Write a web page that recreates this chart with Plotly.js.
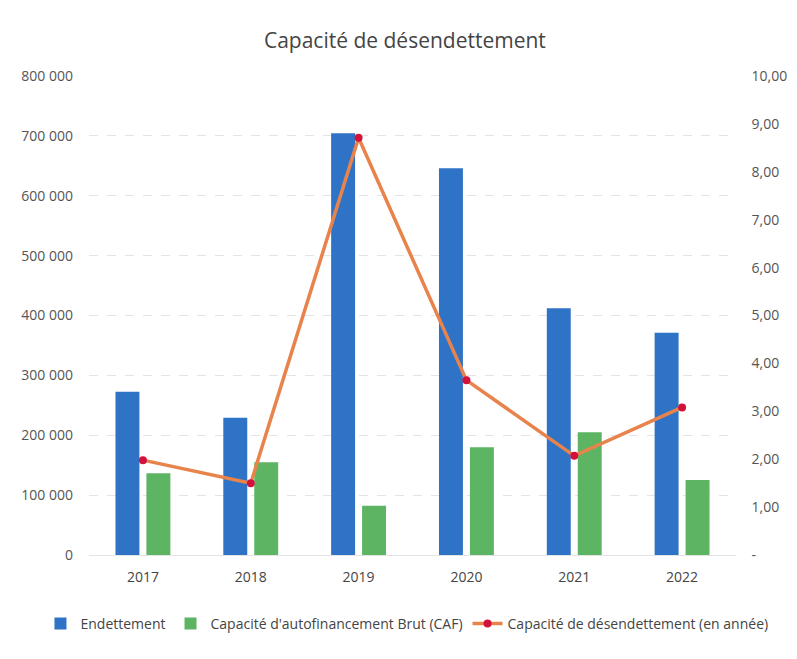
<!DOCTYPE html>
<html>
<head>
<meta charset="utf-8">
<script src="https://cdn.plot.ly/plotly-3.0.1.min.js"></script>
<style>html,body{margin:0;padding:0;background:#fff;}#chart{width:797px;height:659px;}</style>
</head>
<body>
<div id="chart"></div>
<script>
var years = ['2017', '2018', '2019', '2020', '2021', '2022'];
var endettement = [272700, 229300, 704300, 645800, 412000, 371300];
var caf = [136500, 154800, 82400, 179800, 204900, 125300];
var capacite = [1.98, 1.50, 8.71, 3.65, 2.07, 3.08];

var leftTickVals = [0, 100000, 200000, 300000, 400000, 500000, 600000, 700000, 800000];
var leftTickText = ['0', '100 000', '200 000', '300 000', '400 000', '500 000', '600 000', '700 000', '800 000'];
var rightTickVals = [0, 1, 2, 3, 4, 5, 6, 7, 8, 9, 10];
var rightTickText = ['-', '1,00', '2,00', '3,00', '4,00', '5,00', '6,00', '7,00', '8,00', '9,00', '10,00'];

var font = 'Open Sans, Liberation Sans, sans-serif';
var pad = '\u00a0\u00a0\u00a0\u00a0';

var traces = [
  {type: 'bar', name: 'Endettement', x: years, y: endettement, marker: {color: '#2f73c6'}, yaxis: 'y'},
  {type: 'bar', name: "Capacité d'autofinancement Brut (CAF)", x: years, y: caf, marker: {color: '#5db463'}, yaxis: 'y'},
  {type: 'scatter', mode: 'lines+markers', name: 'Capacité de désendettement (en année)', x: years, y: capacite, yaxis: 'y2',
   line: {color: '#e9834c', width: 3.5}, marker: {color: '#d3123b', size: 8}}
];

var layout = {
  width: 797, height: 659,
  margin: {l: 89, r: 61, t: 76, b: 104},
  paper_bgcolor: '#ffffff', plot_bgcolor: '#ffffff',
  font: {family: font, color: '#555555', size: 14},
  title: {text: 'Capacité de désendettement', x: 0.508, xanchor: 'center', y: 0.939, yanchor: 'middle',
          font: {family: font, size: 21, color: '#444444'}},
  barmode: 'group', bargap: 0.426, bargroupgap: 0.226,
  showlegend: true,
  legend: {orientation: 'h', x: -0.075, xanchor: 'left', y: -0.144, yanchor: 'middle',
           itemwidth: 30, font: {family: font, size: 14, color: '#444444'}, traceorder: 'normal'},
  xaxis: {type: 'category', showgrid: false, showline: false, zeroline: false, ticks: '',
          ticklabelstandoff: 12, tickfont: {family: font, size: 14, color: '#444444'}},
  yaxis: {range: [0, 800000], tickvals: leftTickVals, ticktext: leftTickText, showgrid: true,
          gridcolor: '#e4e4e4', griddash: 'dash', zeroline: true, zerolinecolor: '#e4e4e4', zerolinewidth: 1,
          showline: false, ticks: '',
          ticklabelstandoff: 15, tickfont: {family: font, size: 14, color: '#555555'}},
  yaxis2: {range: [0, 10], tickvals: rightTickVals, ticktext: rightTickText.map(function (t) { return pad + t; }),
           overlaying: 'y', side: 'right',
           showgrid: false, zeroline: false, showline: false, ticks: '',
           tickfont: {family: font, size: 14, color: '#555555'}}
};

Plotly.newPlot('chart', traces, layout, {displayModeBar: false, staticPlot: true});
</script>
</body>
</html>
